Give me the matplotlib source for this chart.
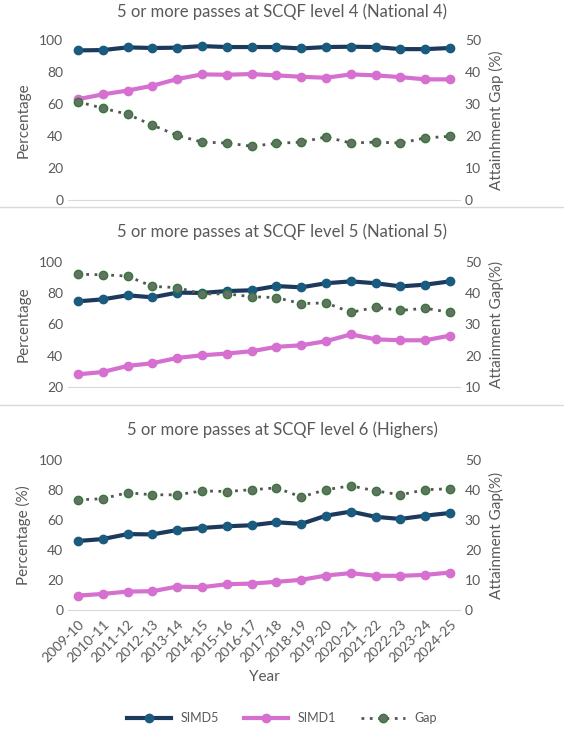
import matplotlib
matplotlib.use("Agg")
import matplotlib.pyplot as plt
from matplotlib.lines import Line2D

plt.rcParams['font.family'] = ['Lato', 'DejaVu Sans']

years = ["2009-10","2010-11","2011-12","2012-13","2013-14","2014-15","2015-16","2016-17",
         "2017-18","2018-19","2019-20","2020-21","2021-22","2022-23","2023-24","2024-25"]

n4_simd5 = [93.5,93.7,95.4,95.0,95.2,96.2,95.6,95.6,95.6,94.7,95.6,95.8,95.6,94.3,94.3,95.0]
n4_simd1 = [63.0,66.0,68.4,71.4,75.6,78.5,78.3,78.7,77.9,77.0,76.4,78.5,77.9,76.8,75.4,75.4]
n4_gap   = [30.7,28.7,26.8,23.4,20.2,18.1,17.8,16.8,17.7,18.1,19.7,17.8,18.1,17.8,19.4,19.9]

n5_simd5 = [74.8,76.1,78.7,77.4,80.4,80.2,81.4,81.9,84.6,83.8,86.4,87.6,86.4,84.4,85.5,87.6]
n5_simd1 = [28.1,29.6,33.5,35.2,38.6,40.3,41.4,42.9,45.7,46.7,49.3,53.7,50.5,49.9,49.9,52.9]
n5_gap   = [46.1,45.9,45.5,42.2,41.8,39.8,39.8,38.9,38.6,36.7,36.9,33.9,35.5,34.5,35.2,33.9]

h_simd5 = [46.0,47.3,50.6,50.4,53.3,54.7,55.8,56.5,58.5,57.4,62.9,65.6,62.1,60.7,62.9,64.7]
h_simd1 = [9.6,10.7,12.3,12.5,15.6,15.2,17.2,17.6,18.8,20.1,23.0,24.6,22.8,22.8,23.4,25.0]
h_gap   = [36.7,37.1,39.1,38.4,38.4,39.7,39.5,40.1,40.7,37.7,40.1,41.4,39.7,38.4,40.1,40.4]

C5_LINE = "#1d3a5c"; C5_MK = "#1a5b80"
C1 = "#d56fd0"
GAP_LINE = "#555555"; GAP_FACE = "#6a6e6a"; GAP_EDGE = "#2e7d32"
TXT = "#595959"

fig = plt.figure(figsize=(5.64, 7.4), dpi=100)
W, H = 564, 740

panels = [
    dict(title="5 or more passes at SCQF level 4 (National 4)", top=40, bot=200, ylim=(0,100), y2lim=(0,50),
         yl="Percentage", y2l="Attainhment Gap (%)", s5=n4_simd5, s1=n4_simd1, g=n4_gap, ty=12, xt=False),
    dict(title="5 or more passes at SCQF level 5 (National 5)", top=262, bot=387, ylim=(20,100), y2lim=(10,50),
         yl="Percentage", y2l="Attainment Gap(%)", s5=n5_simd5, s1=n5_simd1, g=n5_gap, ty=232, xt=False),
    dict(title="5 or more passes at SCQF level 6 (Highers)", top=460, bot=610, ylim=(0,100), y2lim=(0,50),
         yl="Percentage (%)", y2l="Attainment Gap(%)", s5=h_simd5, s1=h_simd1, g=h_gap, ty=430, xt=True),
]

x = list(range(len(years)))
for p in panels:
    ax = fig.add_axes([68/W, 1-p['bot']/H, (460-68)/W, (p['bot']-p['top'])/H])
    ax2 = ax.twinx()
    ax.plot(x, p['s5'], color=C5_LINE, lw=3, marker='o', ms=6, mfc=C5_MK, mec=C5_MK, zorder=3)
    ax.plot(x, p['s1'], color=C1, lw=3, marker='o', ms=6, mfc=C1, mec=C1, zorder=3)
    ax2.plot(x, p['g'], color=GAP_LINE, lw=2, ls=(0,(1,2)), marker='o', ms=6, mfc=GAP_FACE, mec=GAP_EDGE, mew=1)
    ax.set_ylim(*p['ylim']); ax2.set_ylim(*p['y2lim'])
    ax.set_xlim(-0.4, 15.4)
    ax.set_yticks(range(p['ylim'][0], 101, 20))
    ax2.set_yticks(range(p['y2lim'][0], 51, 10))
    for a in (ax, ax2):
        for s in a.spines.values():
            s.set_visible(False)
        a.tick_params(length=0, labelsize=10, colors=TXT)
    ax.spines['bottom'].set_visible(True); ax.spines['bottom'].set_color("#d9d9d9")
    ax.set_ylabel(p['yl'], fontsize=11, color=TXT, labelpad=6)
    ax2.set_ylabel(p['y2l'], fontsize=11, color=TXT, labelpad=6)
    ax.set_xticks(x)
    if p['xt']:
        ax.set_xticklabels(years, rotation=45, ha='right', rotation_mode='anchor', fontsize=10, color=TXT)
        ax.tick_params(axis='x', pad=6)
        ax.set_xlabel("Year", fontsize=11, color=TXT, labelpad=4)
    else:
        ax.set_xticklabels([])
    fig.text(0.5, 1-p['ty']/H, p['title'], ha='center', va='center', fontsize=12, color=TXT)

for yy in (207, 405):
    fig.add_artist(Line2D([0, 1], [1-yy/H]*2, color="#d9d9d9", lw=1))

handles = [Line2D([], [], color=C5_LINE, lw=3, marker='o', ms=6, mfc=C5_MK, mec=C5_MK),
           Line2D([], [], color=C1, lw=3, marker='o', ms=6, mfc=C1, mec=C1),
           Line2D([], [], color=GAP_LINE, lw=2, ls=(0,(1,2)), marker='o', ms=6, mfc=GAP_FACE, mec=GAP_EDGE)]
fig.legend(handles, ["SIMD5", "SIMD1", "Gap"], loc='center', bbox_to_anchor=(0.5, 1-718/H), ncol=3,
           frameon=False, fontsize=9, labelcolor=TXT, handlelength=3.5, columnspacing=2.0)

fig.savefig("out.png", dpi=100)
